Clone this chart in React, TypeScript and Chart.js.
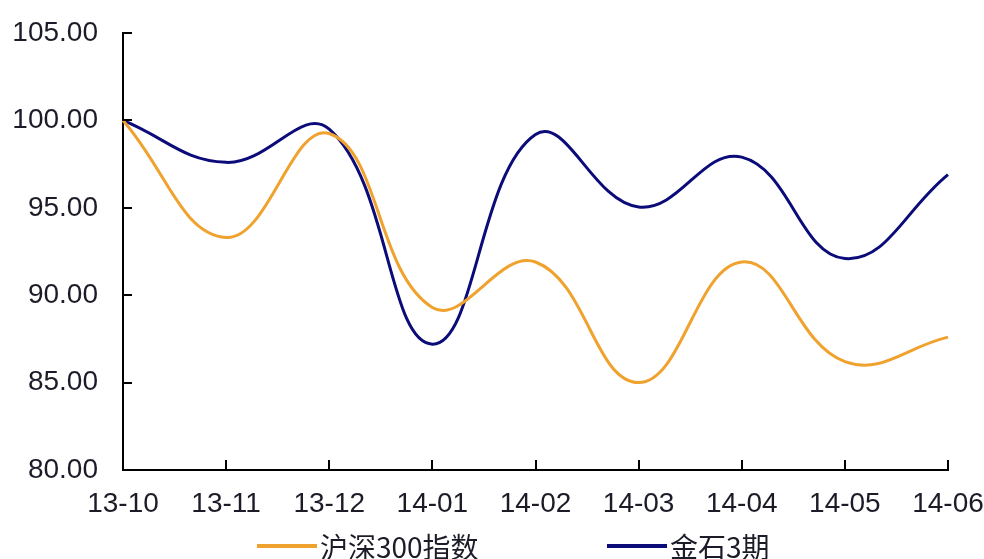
import React, { useEffect, useRef } from "react";
import { Chart, registerables } from "chart.js";

Chart.register(...registerables);

const categories = ["13-10", "13-11", "13-12", "14-01", "14-02", "14-03", "14-04", "14-05", "14-06"];
const hs300 = [100.0, 93.3, 99.25, 89.3, 91.9, 85.0, 91.9, 86.2, 87.6];
const jinshi3 = [100.0, 97.6, 99.5, 87.2, 99.2, 95.05, 97.9, 92.1, 96.9];
const seriesNames = ["沪深300指数", "金石3期"];
const seriesColors = ["#F0A22E", "#0B0B7A"];
const yMin = 80;
const yMax = 105;
const yStep = 5;

const FONT = "'Liberation Sans', Arial, 'Noto Sans CJK SC', sans-serif";
const TEXT = "#1c1c28";

const tickMarks = {
  id: "tickMarks",
  afterDraw(chart: any) {
    const ctx = chart.ctx;
    const x = chart.scales.x;
    const y = chart.scales.y;
    const area = chart.chartArea;
    ctx.save();
    ctx.strokeStyle = "#000";
    ctx.lineWidth = 2;
    ctx.beginPath();
    for (let i = 0; i < x.ticks.length; i++) {
      const px = Math.round(x.getPixelForTick(i));
      ctx.moveTo(px, area.bottom);
      ctx.lineTo(px, area.bottom - 10);
    }
    for (let i = 0; i < y.ticks.length; i++) {
      const py = Math.round(y.getPixelForTick(i));
      ctx.moveTo(area.left, py);
      ctx.lineTo(area.left + 9, py);
    }
    ctx.stroke();
    ctx.restore();
  },
};

const customLegend = {
  id: "customLegend",
  afterDraw(chart: any) {
    const ctx = chart.ctx;
    const items = [
      { lineX: 257, textX: 320 },
      { lineX: 607, textX: 670 },
    ];
    const cy = 546;
    ctx.save();
    chart.data.datasets.forEach((ds: any, i: number) => {
      const it = items[i];
      ctx.strokeStyle = ds.borderColor;
      ctx.lineWidth = 4;
      ctx.beginPath();
      ctx.moveTo(it.lineX, cy);
      ctx.lineTo(it.lineX + 60, cy);
      ctx.stroke();
      ctx.fillStyle = TEXT;
      ctx.font = "28px 'Noto Sans CJK SC', " + FONT;
      ctx.textBaseline = "middle";
      ctx.textAlign = "left";
      ctx.fillText(ds.label, it.textX, cy + 1);
    });
    ctx.restore();
  },
};

export default function App() {
  const ref = useRef<HTMLCanvasElement | null>(null);
  useEffect(() => {
    document.body.style.margin = "0";
    const chart = new Chart(ref.current as HTMLCanvasElement, {
      type: "line",
      data: {
        labels: categories,
        datasets: [
          {
            label: seriesNames[0],
            data: hs300,
            borderColor: seriesColors[0],
            backgroundColor: seriesColors[0],
            borderWidth: 3,
            pointRadius: 0,
            tension: 0.42,
          },
          {
            label: seriesNames[1],
            data: jinshi3,
            borderColor: seriesColors[1],
            backgroundColor: seriesColors[1],
            borderWidth: 3,
            pointRadius: 0,
            tension: 0.42,
          },
        ],
      },
      options: {
        animation: false,
        responsive: false,
        layout: { padding: { top: 33, right: 36, left: 0, bottom: 0 } },
        plugins: { legend: { display: false }, tooltip: { enabled: false } },
        scales: {
          x: {
            offset: false,
            grid: { display: false, drawTicks: false },
            border: { display: true, color: "#000", width: 2 },
            ticks: {
              autoSkip: false,
              maxRotation: 0,
              padding: 17,
              color: TEXT,
              font: { family: FONT, size: 28 },
            },
            afterFit(scale: any) {
              scale.height = 89;
              scale.paddingLeft = 0;
              scale.paddingRight = 0;
            },
          },
          y: {
            min: yMin,
            max: yMax,
            grid: { display: false, drawTicks: false },
            border: { display: true, color: "#000", width: 2 },
            ticks: {
              stepSize: yStep,
              padding: 25,
              color: TEXT,
              font: { family: FONT, size: 28 },
              callback: (v: any) => Number(v).toFixed(2),
            },
            afterFit(scale: any) {
              scale.width = 123;
              scale.paddingTop = 0;
              scale.paddingBottom = 0;
            },
          },
        },
      },
      plugins: [tickMarks, customLegend],
    });
    return () => chart.destroy();
  }, []);
  return (
    <div style={{ position: "absolute", left: 0, top: 0, width: 984, height: 559, background: "#fff" }}>
      <canvas ref={ref} width={984} height={559} style={{ width: 984, height: 559 }} />
    </div>
  );
}
